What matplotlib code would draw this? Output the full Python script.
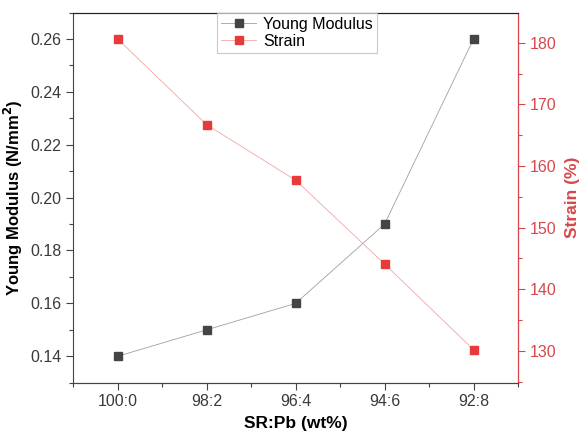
import matplotlib
matplotlib.use("Agg")
import matplotlib.pyplot as plt
from matplotlib.ticker import MultipleLocator, FixedLocator

plt.rcParams["font.family"] = ["Liberation Sans", "DejaVu Sans"]

# Data
ratios = ["100:0", "98:2", "96:4", "94:6", "92:8"]
young_modulus = [0.14, 0.15, 0.16, 0.19, 0.26]
strain = [180.6, 166.7, 157.7, 144.1, 130.2]

GRAY = "#444444"
RED = "#d9474a"
MARK_RED = "#e8393b"

fig = plt.figure(figsize=(5.8, 4.38), dpi=100)
ax = fig.add_axes([0.1264, 0.1263, 0.7667, 0.845])
ax2 = ax.twinx()

x = list(range(len(ratios)))

l1, = ax.plot(x, young_modulus, color="#a0a0a0", linewidth=0.6,
              marker="s", markersize=6.2, markerfacecolor=GRAY,
              markeredgecolor=GRAY, label="Young Modulus")
l2, = ax2.plot(x, strain, color="#f2a6a6", linewidth=0.6,
               marker="s", markersize=6.2, markerfacecolor=MARK_RED,
               markeredgecolor=MARK_RED, label="Strain")

# Left axis
ax.set_xlim(-0.5, 4.5)
ax.set_ylim(0.13, 0.27)
ax.set_xticks(x)
ax.set_xticklabels(ratios)
ax.xaxis.set_minor_locator(FixedLocator([-0.5, 0.5, 1.5, 2.5, 3.5, 4.5]))
ax.yaxis.set_major_locator(MultipleLocator(0.02))
ax.yaxis.set_minor_locator(MultipleLocator(0.01))
ax.yaxis.set_major_formatter(matplotlib.ticker.FormatStrFormatter("%.2f"))
ax.tick_params(axis="both", which="major", direction="out", length=5,
               width=0.8, labelsize=11.5, colors=GRAY, labelcolor="#3a3a3a")
ax.tick_params(axis="both", which="minor", direction="out", length=3,
               width=0.8, colors=GRAY)
ax.set_xlabel("SR:Pb (wt%)", fontsize=12.5, fontweight="bold", labelpad=5)
ax.set_ylabel("Young Modulus (N/mm$^\\mathbf{2}$)", fontsize=12,
              fontweight="bold")
ax.yaxis.set_label_coords(-0.108, 0.5)

for side in ["left", "bottom"]:
    ax.spines[side].set_color(GRAY)
ax.spines["top"].set_color("#222222")

# Right axis
ax2.set_ylim(124.85, 184.9)
ax2.yaxis.set_major_locator(MultipleLocator(10))
ax2.yaxis.set_minor_locator(MultipleLocator(5))
ax2.tick_params(axis="y", which="major", direction="out", length=5,
                width=0.8, labelsize=11.5, colors=RED)
ax2.tick_params(axis="y", which="minor", direction="out", length=3,
                width=0.8, colors=RED)
ax2.set_ylabel("Strain (%)", fontsize=12.5, fontweight="bold", color=RED,
               labelpad=6)
ax2.spines["right"].set_color(RED)
ax2.spines["left"].set_visible(False)
ax2.spines["top"].set_color("#222222")
ax2.spines["bottom"].set_color(GRAY)

leg = ax2.legend(handles=[l1, l2], loc="upper center",
                 bbox_to_anchor=(0.503, 1.0), borderaxespad=0,
                 fontsize=11.5, frameon=True, fancybox=False,
                 handlelength=2.2, handletextpad=0.4, borderpad=0.25,
                 labelspacing=0.15, edgecolor="#bbbbbb")
leg.get_frame().set_linewidth(0.8)

fig.savefig("out.png", dpi=100)
